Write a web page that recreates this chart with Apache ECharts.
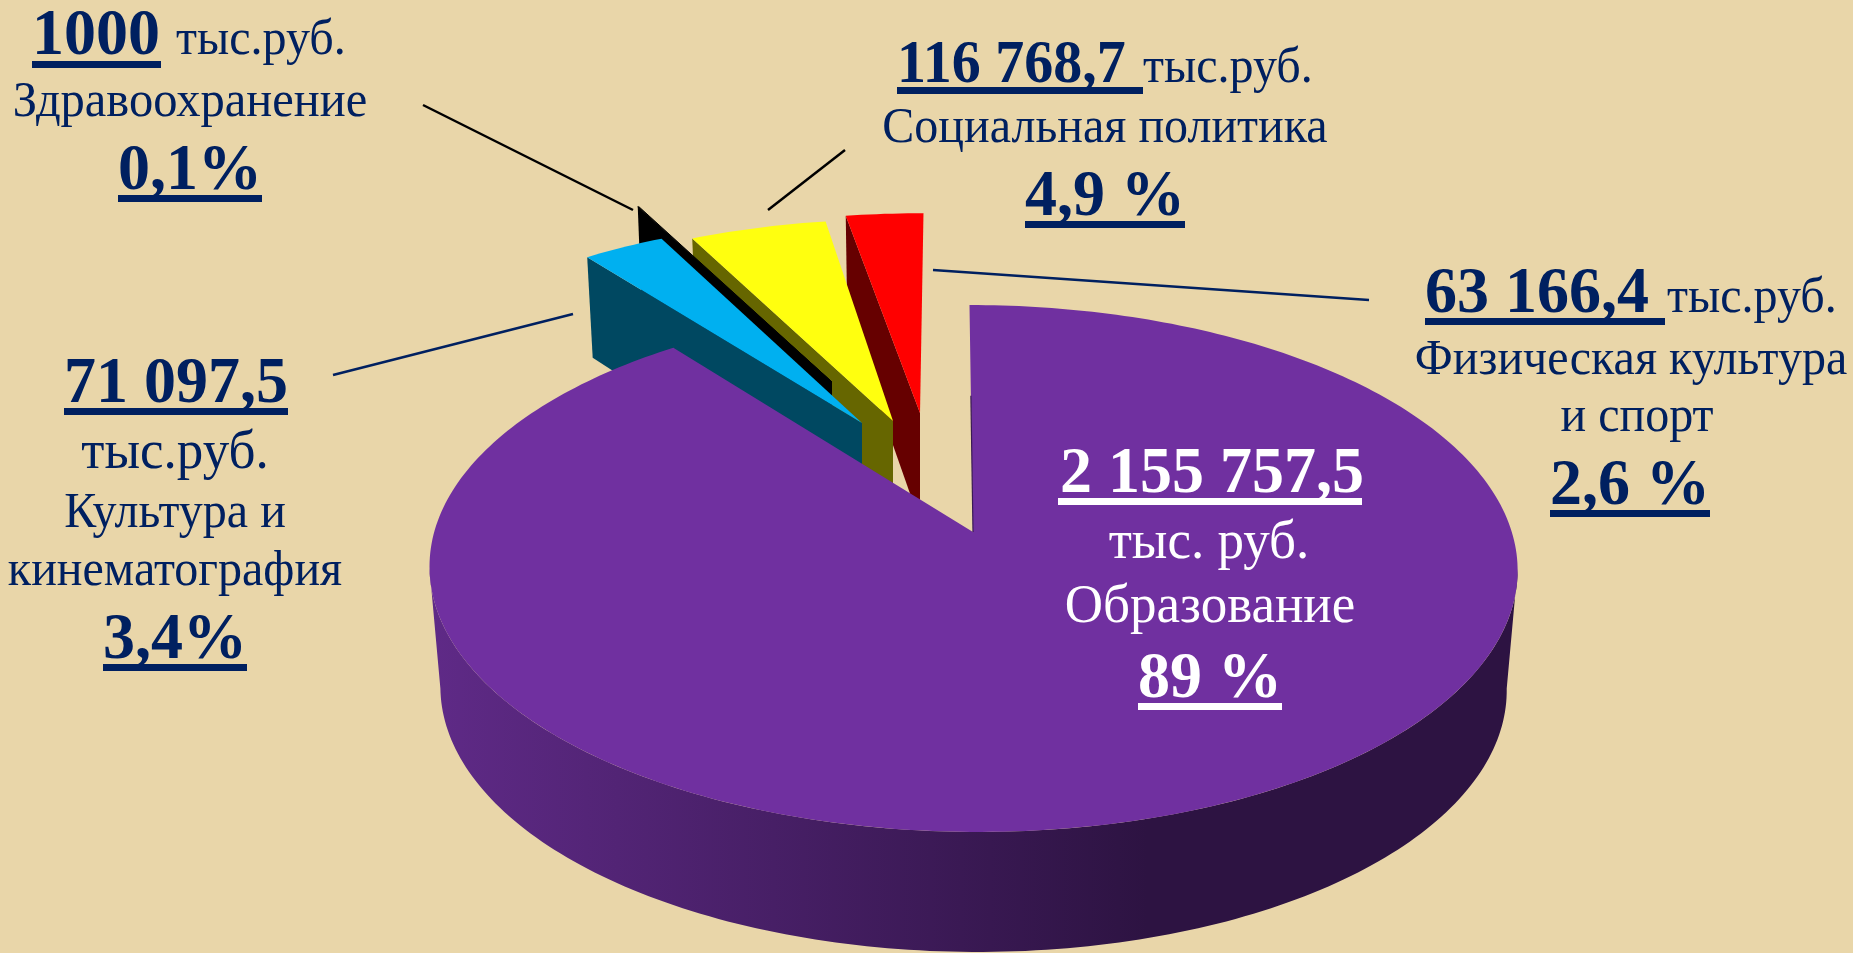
<!DOCTYPE html>
<html>
<head>
<meta charset="utf-8">
<style>
  html, body { margin: 0; height: 100%; background: #e9d6a9; }
  #chart { width: 1853px; height: 953px; }
</style>
<script src="https://cdn.jsdelivr.net/npm/echarts@6/dist/echarts.min.js"></script>
</head>
<body>
<div id="chart"></div>
<script>
// data, in the order the slices go round the pie (clockwise from 12 o'clock)
const categories = ['Образование', 'Культура и кинематография', 'Здравоохранение', 'Социальная политика', 'Физическая культура и спорт'];
const values = [2155757.5, 71097.5, 1000, 116768.7, 63166.4];
const amountLabels = ['2 155 757,5', '71 097,5', '1000', '116 768,7 ', '63 166,4 '];
const unitLabels = ['тыс. руб.', 'тыс.руб.', 'тыс.руб.', 'тыс.руб.', 'тыс.руб.'];
const nameLines = [['Образование'], ['Культура и', 'кинематография'], ['Здравоохранение'], ['Социальная политика'], ['Физическая культура', 'и спорт']];
const percentLabels = ['89 %', '3,4%', '0,1%', '4,9 %', '2,6 %'];

const topColors = ['#7030a0', '#00b0f0', '#000000', '#ffff0f', '#ff0000'];
const sideColors = ['#5f2a87', '#004861', '#000000', '#666600', '#660000'];

// screen layout of each slice: apex, size, height of the cut face, bottom surface scale
const apexX = [973, 862, 832, 893, 920];
const apexY = [532, 423, 382, 421, 413];
const sliceScaleY = [1, 0.9, 0.855, 0.89, 0.88];
const sliceScaleX = [1, 0.949, 0.95, 0.96, 1];
const arcShiftX = [0, 9.6, 16, 10.6, 7];
const sliceDepth = [120, 109, 109, 109, 109];
const bottomScaleY = [1, 1.05, 1.05, 1.05, 1.05];
const bottomScaleX = 0.98;

// perspective of the pie disc
const persp = { a: 258.4, b: 0.1385, c: 538.8, s: -4 };

// label layout, one row per text line: x, baseline, font size
const labelLayout = [
  { amount: [1060, 492, 64], unit: [1209, 558, 53], names: [[1210, 622, 53]], percent: [1210, 697, 64], amountLine: [1058, 1362, 498], percentLine: [1138, 1282, 703], color: '#ffffff' },
  { amount: [64, 402, 64], unit: [175, 468, 53], names: [[175, 527, 48], [175, 585, 48]], percent: [175, 658, 64], amountLine: [64, 288, 408], percentLine: [103, 247, 664], color: '#002060' },
  { amount: [32, 54, 64], unitLeft: [176, 54, 48], names: [[190, 116, 48.5]], percent: [190, 189, 64], amountLine: [32, 161, 61], percentLine: [118, 262, 195], color: '#002060' },
  { amount: [897, 82, 58], unitLeft: [1143, 82, 48], names: [[1105, 142, 48]], percent: [1105, 215, 64], amountLine: [897, 1143, 87], percentLine: [1025, 1185, 221], color: '#002060' },
  { amount: [1425, 312, 64], unitLeft: [1667, 312, 48], names: [[1631, 374, 48], [1637, 431, 48]], percent: [1630, 504, 64], amountLine: [1425, 1665, 318], percentLine: [1550, 1710, 510], color: '#002060' }
];

// leader lines from the labels to the slices
const leaderFrom = [[333, 375], [423, 105], [768, 210], [1369, 300]];
const leaderTo = [[573, 314], [633, 210], [845, 150], [933, 270]];
const leaderColors = ['#002060', '#000000', '#000000', '#002060'];

const total = values.reduce((s, v) => s + v, 0);
const startAngles = [];
const endAngles = [];
values.reduce((acc, v, i) => {
  startAngles[i] = acc / total * 360;
  endAngles[i] = (acc + v) / total * 360;
  return acc + v;
}, 0);

// angle is clockwise from straight up, in degrees; result is relative to the slice apex
function slicePoint(i, angle) {
  const t = angle * Math.PI / 180;
  const v = Math.sin(t);
  const u = Math.cos(t);
  const w = 1 + persp.b * u;
  return [
    sliceScaleX[i] * (persp.c * v + persp.s * u) / w + arcShiftX[i],
    -sliceScaleY[i] * persp.a * u / w
  ];
}
function topPoint(i, angle) {
  const p = slicePoint(i, angle);
  return [apexX[i] + p[0], apexY[i] + p[1]];
}
function bottomPoint(i, angle) {
  const p = slicePoint(i, angle);
  return [apexX[i] + p[0] * bottomScaleX, apexY[i] + sliceDepth[i] + p[1] * bottomScaleY[i]];
}
function arc(fn, i, from, to) {
  const pts = [];
  const n = Math.max(2, Math.ceil(Math.abs(to - from)));
  for (let k = 0; k <= n; k++) pts.push(fn(i, from + (to - from) * k / n));
  return pts;
}

function renderSlice(params, api) {
  const i = api.value(0);
  const apex = [apexX[i], apexY[i]];
  const apexBottom = [apexX[i], apexY[i] + sliceDepth[i]];
  const children = [];
  if (i === 0) {
    // outer wall of the big slice, between the widest points of the disc
    const edge = Math.acos(-persp.b) * 180 / Math.PI;
    const wall = arc(topPoint, i, edge, 360 - edge).concat(arc(bottomPoint, i, 360 - edge, edge));
    children.push({
      type: 'polygon',
      shape: { points: wall },
      style: {
        fill: new echarts.graphic.LinearGradient(0, 0, 1, 0, [
          { offset: 0, color: sideColors[0] },
          { offset: 0.66, color: '#2d1342' },
          { offset: 1, color: '#2d1342' }
        ])
      }
    });
  } else {
    // cut face along the slice's first edge
    children.push({
      type: 'polygon',
      shape: { points: [apex, topPoint(i, startAngles[i]), bottomPoint(i, startAngles[i]), apexBottom] },
      style: { fill: sideColors[i] }
    });
  }
  children.push({
    type: 'polygon',
    shape: { points: [apex].concat(arc(topPoint, i, startAngles[i], endAngles[i])) },
    style: { fill: topColors[i], stroke: i === 2 ? topColors[i] : null, lineWidth: 1 }
  });
  if (i === 0) {
    // the other cut face is seen almost edge on
    const inner = slicePoint(i, 0);
    children.push({
      type: 'line',
      shape: { x1: apex[0], y1: apex[1], x2: apex[0] + inner[0] * 0.6, y2: apex[1] + inner[1] * 0.6 },
      style: { stroke: '#3a1a55', lineWidth: 1.2 }
    });
  }
  return { type: 'group', children: children };
}

function textEl(text, x, base, size, bold, align, color) {
  return {
    type: 'text',
    x: x,
    y: base,
    originY: 0,
    scaleY: 1.04,
    style: {
      text: text,
      x: 0,
      y: -0.265 * size,
      font: (bold ? 'bold ' : '') + size + 'px "Liberation Serif"',
      fill: color,
      align: align,
      verticalAlign: 'middle'
    }
  };
}

function renderLabel(params, api) {
  const i = api.value(0);
  const l = labelLayout[i];
  const out = [];
  out.push(textEl(amountLabels[i], l.amount[0], l.amount[1], l.amount[2], true, 'left', l.color));
  if (l.unit) out.push(textEl(unitLabels[i], l.unit[0], l.unit[1], l.unit[2], false, 'center', l.color));
  if (l.unitLeft) out.push(textEl(unitLabels[i], l.unitLeft[0], l.unitLeft[1], l.unitLeft[2], false, 'left', l.color));
  nameLines[i].forEach((line, k) => {
    const n = l.names[k];
    out.push(textEl(line, n[0], n[1], n[2], false, 'center', l.color));
  });
  out.push(textEl(percentLabels[i], l.percent[0], l.percent[1], l.percent[2], true, 'center', l.color));
  [l.amountLine, l.percentLine].forEach(u => {
    out.push({ type: 'rect', shape: { x: u[0], y: u[2], width: u[1] - u[0], height: 7 }, style: { fill: l.color } });
  });
  return { type: 'group', children: out };
}

function renderLeader(params, api) {
  const i = api.value(0);
  return {
    type: 'line',
    shape: { x1: leaderFrom[i][0], y1: leaderFrom[i][1], x2: leaderTo[i][0], y2: leaderTo[i][1] },
    style: { stroke: leaderColors[i], lineWidth: 2.5 }
  };
}

const chart = echarts.init(document.getElementById('chart'), null, { renderer: 'canvas' });
chart.setOption({
  animation: false,
  backgroundColor: '#e9d6a9',
  series: [
    {
      // smallest slices first, the big one goes on top
      type: 'custom',
      coordinateSystem: 'none',
      renderItem: renderSlice,
      data: categories.map((c, i) => ({ name: c, value: [i, values[i]] })).reverse()
    },
    {
      type: 'custom',
      coordinateSystem: 'none',
      renderItem: renderLeader,
      data: leaderFrom.map((p, i) => [i])
    },
    {
      type: 'custom',
      coordinateSystem: 'none',
      renderItem: renderLabel,
      data: categories.map((c, i) => ({ name: c, value: [i] }))
    }
  ]
});
</script>
</body>
</html>
